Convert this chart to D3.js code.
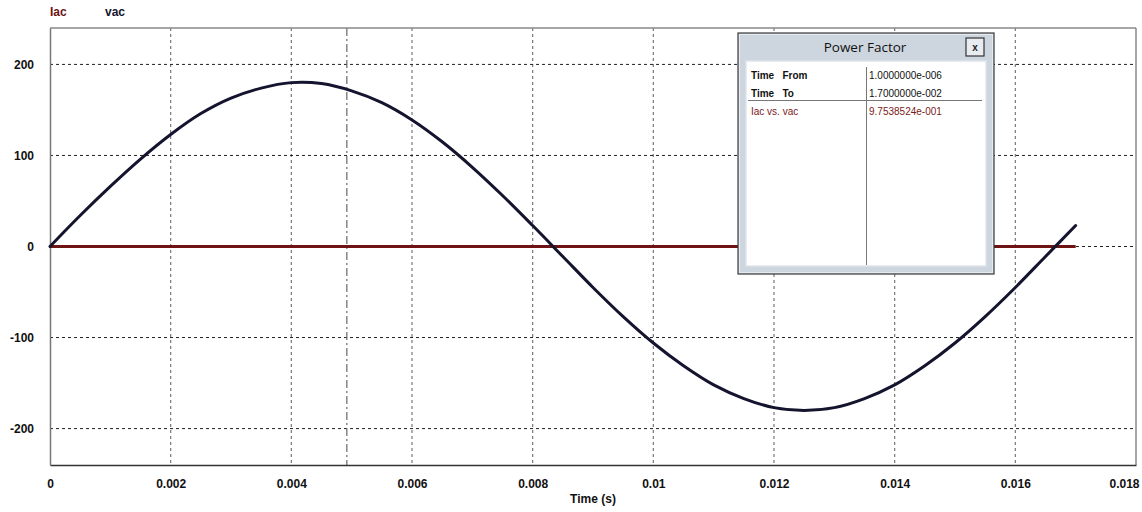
<!DOCTYPE html>
<html><head><meta charset="utf-8">
<script src="https://cdn.jsdelivr.net/npm/d3@7"></script>
<style>
html,body{margin:0;padding:0;background:#fff;}
svg{display:block;font-family:Arial,"Liberation Sans",sans-serif;}
</style></head>
<body>
<svg id="chart" width="1142" height="512"></svg>
<script>
// ---- data ----
const timeS = [0,0.0005,0.001,0.0015,0.002,0.0025,0.003,0.0035,0.004,0.0045,0.005,0.0055,0.006,0.0065,0.007,0.0075,0.008,0.0085,0.009,0.0095,0.01,0.0105,0.011,0.0115,0.012,0.0125,0.013,0.0135,0.014,0.0145,0.015,0.0155,0.016,0.0165,0.017];
const vacValues = [0,34,66,96,123,146,163,174,180,179,171,158,139,115,87,56,23,-11,-45,-77,-106,-131,-152,-167,-177,-180,-177,-167,-152,-131,-106,-77,-45,-11,23];
const iacValues = timeS.map(() => 0); // current trace reads flat at 0 over the whole run
const xTicks = [0,0.002,0.004,0.006,0.008,0.01,0.012,0.014,0.016,0.018];
const xTickLabels = ["0","0.002","0.004","0.006","0.008","0.01","0.012","0.014","0.016","0.018"];
const yTicks = [-200,-100,0,100,200];
const yTickLabels = ["-200","-100","0","100","200"];
const cursorTime = 0.00492;
const seriesNames = ["Iac","vac"];
const pfRows = [
  {label:"Time   From", value:"1.0000000e-006", red:false},
  {label:"Time   To", value:"1.7000000e-002", red:false},
  {label:"Iac vs. vac", value:"9.7538524e-001", red:true}
];

// ---- layout ----
const svg = d3.select("#chart");
const L = 50, R = 1136, T = 28, B = 465;
const x = d3.scaleLinear().domain([0, 0.018]).range([L, R]);
const y = d3.scaleLinear().domain([-240, 240]).range([B, T]);

const IAC_COLOR = "#6e1414", VAC_COLOR = "#14142e";

// grid
const g = svg.append("g");
g.selectAll(".vg").data(xTicks.filter(d => d > 0 && d < 0.018)).enter().append("line")
  .attr("x1", d => x(d)).attr("x2", d => x(d)).attr("y1", T).attr("y2", B)
  .attr("stroke", "#777").attr("stroke-width", 1.2).attr("stroke-dasharray", "3,3");
g.selectAll(".hg").data(yTicks).enter().append("line")
  .attr("x1", L).attr("x2", R).attr("y1", d => y(d)).attr("y2", d => y(d))
  .attr("stroke", "#222").attr("stroke-width", 1).attr("stroke-dasharray", "3,3");

// cursor line (dash-dot)
g.append("line").attr("x1", x(cursorTime)).attr("x2", x(cursorTime)).attr("y1", T).attr("y2", B)
  .attr("stroke", "#666").attr("stroke-width", 1.2).attr("stroke-dasharray", "8,3,2,3");

// frame
svg.append("line").attr("x1", L).attr("x2", R).attr("y1", T).attr("y2", T).attr("stroke", "#888").attr("stroke-width", 1.5);
svg.append("line").attr("x1", R).attr("x2", R).attr("y1", T).attr("y2", B).attr("stroke", "#888").attr("stroke-width", 1.5);

// axes
const xAxis = d3.axisBottom(x).tickValues(xTicks).tickFormat((d,i) => xTickLabels[i]).tickSize(0).tickPadding(14);
const xa = svg.append("g").attr("transform", `translate(0,${B})`).call(xAxis);
xa.select(".domain").attr("stroke", "#333").attr("stroke-width", 1.5);
xa.selectAll("text").attr("font-size", 12).attr("font-weight", "bold").attr("fill", "#111")
  .attr("font-family", "Arial, 'Liberation Sans', sans-serif");
xa.selectAll(".tick").filter(d => d === 0.018).select("text").attr("dx", -12);

const yAxis = d3.axisLeft(y).tickValues(yTicks).tickFormat((d,i) => yTickLabels[i]).tickSize(0).tickPadding(16);
const ya = svg.append("g").attr("transform", `translate(${L},0)`).call(yAxis);
ya.select(".domain").attr("stroke", "#777").attr("stroke-width", 1.5);
ya.selectAll("text").attr("font-size", 12).attr("font-weight", "bold").attr("fill", "#111")
  .attr("font-family", "Arial, 'Liberation Sans', sans-serif");

svg.append("text").attr("x", 593).attr("y", 503).attr("text-anchor", "middle")
  .attr("font-size", 12).attr("font-weight", "bold").attr("fill", "#111").text("Time (s)");

// legend
svg.append("text").attr("x", 50).attr("y", 16).attr("font-size", 12).attr("font-weight", "bold").attr("fill", IAC_COLOR).text(seriesNames[0]);
svg.append("text").attr("x", 105).attr("y", 16).attr("font-size", 12).attr("font-weight", "bold").attr("fill", VAC_COLOR).text(seriesNames[1]);

// series
const iacLine = d3.line().x((d,i) => x(timeS[i])).y(d => y(d));
svg.append("path").datum(iacValues).attr("d", iacLine).attr("fill", "none")
  .attr("stroke", IAC_COLOR).attr("stroke-width", 3);
const vacLine = d3.line().x((d,i) => x(timeS[i])).y(d => y(d)).curve(d3.curveCatmullRom.alpha(0.5));
svg.append("path").datum(vacValues).attr("d", vacLine).attr("fill", "none")
  .attr("stroke", VAC_COLOR).attr("stroke-width", 3).attr("stroke-linecap", "round");

// ---- Power Factor dialog ----
const dlg = svg.append("g");
const DX = 738, DY = 33, DW = 256, DH = 241;
dlg.append("rect").attr("x", DX).attr("y", DY).attr("width", DW).attr("height", DH)
  .attr("fill", "#cdd5df").attr("stroke", "#3a3a3a").attr("stroke-width", 1.2);
dlg.append("rect").attr("x", DX+1.5).attr("y", DY+1.5).attr("width", DW-3).attr("height", DH-3)
  .attr("fill", "none").attr("stroke", "#e6ebf1").attr("stroke-width", 1);
dlg.append("text").attr("x", 865).attr("y", 52).attr("text-anchor", "middle")
  .attr("font-family", "'Open Sans','Noto Sans',sans-serif").attr("font-size", 13.5).attr("fill", "#111").text("Power Factor");
// close button
dlg.append("rect").attr("x", 966).attr("y", 38).attr("width", 18).attr("height", 18)
  .attr("fill", "#e8ecf1").attr("stroke", "#333").attr("stroke-width", 1.2);
dlg.append("text").attr("x", 975).attr("y", 51).attr("text-anchor", "middle")
  .attr("font-size", 10).attr("font-weight", "bold").attr("fill", "#222").text("x");
// inner white area
dlg.append("rect").attr("x", 746).attr("y", 61).attr("width", 240).attr("height", 205)
  .attr("fill", "#fff").attr("stroke", "#dfe4ea").attr("stroke-width", 1.5);
dlg.append("line").attr("x1", 866.5).attr("x2", 866.5).attr("y1", 67).attr("y2", 265).attr("stroke", "#777").attr("stroke-width", 1);
dlg.append("line").attr("x1", 748).attr("x2", 982).attr("y1", 100.5).attr("y2", 100.5).attr("stroke", "#777").attr("stroke-width", 1);
const rowY = [79, 97, 115];
pfRows.forEach((r, i) => {
  dlg.append("text").attr("x", 751).attr("y", rowY[i]).attr("font-size", 10)
    .attr("font-weight", r.red ? "normal" : "bold").attr("fill", r.red ? "#7a1a1a" : "#111")
    .attr("xml:space", "preserve").style("white-space", "pre").text(r.label);
  dlg.append("text").attr("x", 869).attr("y", rowY[i]).attr("font-size", 10)
    .attr("fill", r.red ? "#7a1a1a" : "#111").text(r.value);
});
</script>
</body></html>
